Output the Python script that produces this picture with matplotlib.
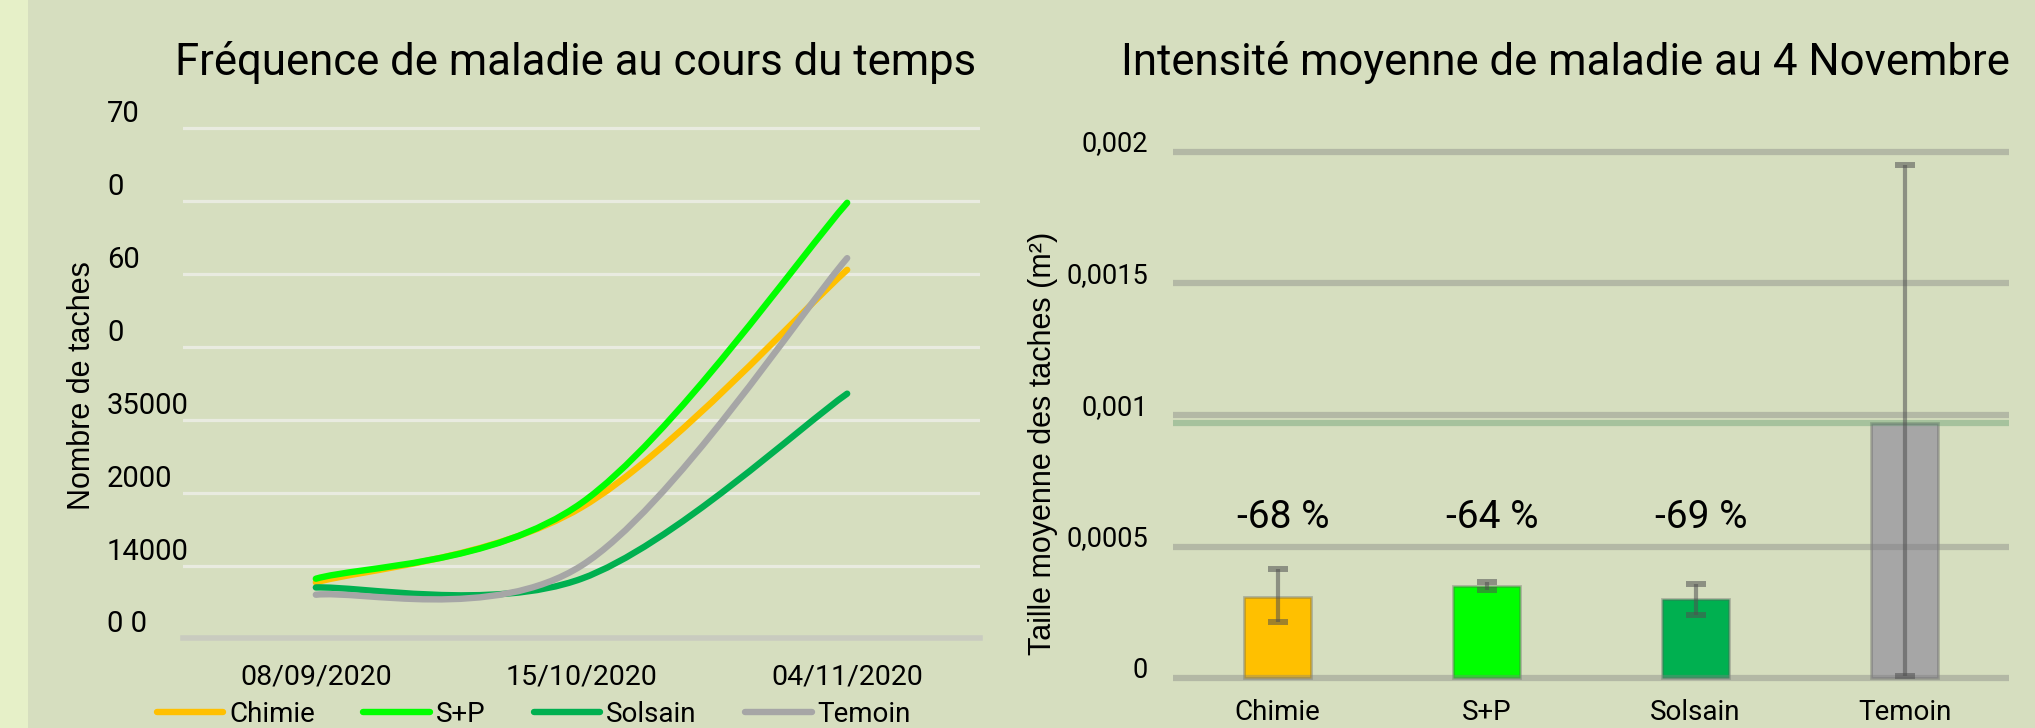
import numpy as np
import matplotlib
matplotlib.use('Agg')
import matplotlib.pyplot as plt
import matplotlib.transforms as mtransforms
from matplotlib.path import Path
from matplotlib.patches import PathPatch, Rectangle
from matplotlib.lines import Line2D

# --- data ---
dates = ['08/09/2020', '15/10/2020', '04/11/2020']
chimie = [7.7, 18.0, 50.6]
sp = [8.2, 18.6, 59.8]
solsain = [7.0, 8.2, 33.6]
temoin = [6.0, 10.0, 52.2]
freq_ticks = [0, 10, 20, 30, 40, 50, 60, 70]
freq_ticklabels = ['0 0', '14000', '2000', '35000', '0', '60', '0', '70']

treatments = ['Chimie', 'S+P', 'Solsain', 'Temoin']
intensite = [0.00031, 0.00035, 0.00030, 0.00097]
erreur_bas = [0.000095, 0.000015, 0.00006, 0.000962]
erreur_haut = [0.000105, 0.000015, 0.00006, 0.00098]
reduction = ['-68 %', '-64 %', '-69 %', '']
int_ticks = [0, 0.0005, 0.001, 0.0015, 0.002]
int_ticklabels = ['0', '0,0005', '0,001', '0,0015', '0,002']

colors = ['#FFC000', '#00FF00', '#00B050', '#A6A6A6']
bg = '#D6DEBF'
cond = ['Roboto', 'DejaVu Sans']
plain = ['Liberation Sans', 'DejaVu Sans']

plt.rcParams['font.family'] = cond


def smooth_path(xs, ys):
    # excel-like smoothed line: bezier segments with catmull-rom tangents
    pts = np.column_stack([xs, ys]).astype(float)
    ext = np.vstack([pts[0], pts, pts[-1]])
    verts = [pts[0]]
    codes = [Path.MOVETO]
    for i in range(len(pts) - 1):
        p0, p1, p2, p3 = ext[i], ext[i + 1], ext[i + 2], ext[i + 3]
        verts += [p1 + (p2 - p0) / 6, p2 - (p3 - p1) / 6, p2]
        codes += [Path.CURVE4] * 3
    return Path(verts, codes)


fig = plt.figure(figsize=(20.35, 7.28), dpi=100, facecolor=bg)
fig.patches.append(Rectangle((0, 0), 28 / 2035, 1, transform=fig.transFigure,
                             facecolor='#E6F0C8', edgecolor='none', zorder=0))

# ---------- left: frequency over time ----------
ax1 = fig.add_axes([183 / 2035, 85.9 / 728, 797 / 2035, 517.3 / 728])
ax1.set_facecolor(bg)
ax1.set_xlim(-0.5, 2.5)
ax1.set_ylim(-0.5, 70.5)
x = np.arange(len(dates))

series = [('Chimie', chimie), ('S+P', sp), ('Solsain', solsain), ('Temoin', temoin)]
handles = []
for (name, vals), c in zip(series, colors):
    ax1.add_patch(PathPatch(smooth_path(x, vals), fill=False, edgecolor=c, lw=4.6,
                            capstyle='round', joinstyle='round', zorder=3))
    handles.append(Line2D([], [], color=c, lw=4.6, solid_capstyle='round'))

ax1.set_yticks(freq_ticks)
ax1.set_yticklabels(freq_ticklabels)
ax1.yaxis.grid(True, color='#E9EBE0', lw=2.3)
ax1.set_axisbelow(True)
for s in ['top', 'right', 'left']:
    ax1.spines[s].set_visible(False)
ax1.spines['bottom'].set_position(('data', 0))
ax1.spines['bottom'].set_color('#C9CBBF')
ax1.spines['bottom'].set_linewidth(4)
ax1.set_xticks(x)
ax1.set_xticklabels(dates)
ax1.tick_params(axis='x', length=0, labelsize=20.5, pad=18)
ax1.tick_params(axis='y', length=0, labelsize=21, pad=54.7)
off1 = mtransforms.ScaledTranslation(0, 17 / 100, fig.dpi_scale_trans)
for lab in ax1.get_yticklabels():
    lab.set_horizontalalignment('left')
    lab.set_transform(lab.get_transform() + off1)

ax1.set_ylabel('Nombre de taches', fontsize=22, family=plain, va='center')
ax1.yaxis.set_label_coords(-0.127, 0.495)
ax1.set_title('Fréquence de maladie au cours du temps', fontsize=31.5, x=0.492, pad=36)

ax1.legend(handles, [n for n, _ in series], loc='center', bbox_to_anchor=(0.44, -0.14),
           ncol=4, frameon=False, fontsize=20, handlelength=2.4, handletextpad=0.2,
           columnspacing=1.75, borderpad=0)

# ---------- right: mean intensity ----------
ax2 = fig.add_axes([1173 / 2035, 39 / 728, 836 / 2035, 547.8 / 728])
ax2.set_facecolor(bg)
xb = np.arange(len(treatments))
ax2.bar(xb, intensite, width=0.316, color=colors, edgecolor=(0.35, 0.35, 0.35, 0.35),
        linewidth=2, zorder=1)
ax2.axhline(intensite[3], color='#4F8F5F', alpha=0.35, lw=4.5, zorder=2)
ax2.errorbar(xb, intensite, yerr=[erreur_bas, erreur_haut], fmt='none', ecolor='#505050',
             alpha=0.55, elinewidth=3, capsize=7, capthick=4.3, zorder=4)
for i, txt in enumerate(reduction):
    ax2.text(xb[i] + 0.03, 0.00061, txt, ha='center', va='center', fontsize=28)

ax2.set_xlim(-0.5, 3.5)
ax2.set_ylim(-0.00004, 0.00204)
ax2.set_yticks(int_ticks)
ax2.set_yticklabels(int_ticklabels)
ax2.yaxis.grid(True, color='#808080', alpha=0.4, lw=4.5)
ax2.set_axisbelow(False)
for s in ax2.spines.values():
    s.set_visible(False)
ax2.set_xticks(xb)
ax2.set_xticklabels(treatments)
ax2.tick_params(axis='x', length=0, labelsize=20, pad=7)
ax2.tick_params(axis='y', length=0, labelsize=19.5, pad=18)
off2 = mtransforms.ScaledTranslation(0, 11 / 100, fig.dpi_scale_trans)
for lab in ax2.get_yticklabels():
    lab.set_transform(lab.get_transform() + off2)

ax2.set_ylabel('Taille moyenne des taches (m²)', fontsize=22, family=plain, va='center')
ax2.yaxis.set_label_coords(-0.1555, 0.449)
ax2.set_title('Intensité moyenne de maladie au 4 Novembre', fontsize=31.5, x=0.469, pad=48)

fig.savefig('out.png', dpi=100, facecolor=bg)
